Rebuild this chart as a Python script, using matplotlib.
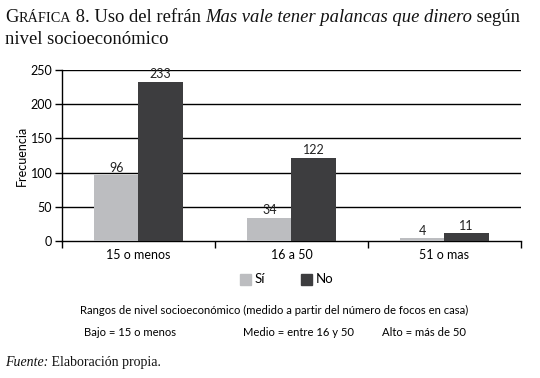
import numpy as np
import matplotlib
matplotlib.use('Agg')
import matplotlib.pyplot as plt

# data
categories = ['15 o menos', '16 a 50', '51 o mas']
si_values = [96, 34, 4]
no_values = [233, 122, 11]
series_names = ['Sí', 'No']
y_ticks = [0, 50, 100, 150, 200, 250]

SI_COLOR = '#bcbdc0'
NO_COLOR = '#3d3d3f'
SANS = 'Lato'
SERIF = 'Liberation Serif'

fig = plt.figure(figsize=(5.4, 3.78), dpi=100)
ax = fig.add_axes([0.1148, 0.3624, 0.85, 0.4524])

x = np.arange(len(categories))
w = 0.29
ax.bar(x - w / 2, si_values, w, color=SI_COLOR, zorder=3)
ax.bar(x + w / 2, no_values, w, color=NO_COLOR, zorder=3)

for xi, v in zip(x - w / 2, si_values):
    ax.text(xi, v + 2, str(v), ha='center', va='bottom', fontsize=9, family=SANS, color='#222222')
for xi, v in zip(x + w / 2, no_values):
    ax.text(xi, v + 2, str(v), ha='center', va='bottom', fontsize=9, family=SANS, color='#222222')

ax.set_xlim(-0.5, len(categories) - 0.5)
ax.set_ylim(0, 250)
ax.set_yticks(y_ticks)
ax.set_yticklabels([str(t) for t in y_ticks], family=SANS, fontsize=9)
for t in y_ticks[1:]:
    ax.axhline(t, color='black', lw=1, zorder=1)

# category boundaries as ticks, labels as minor ticks
ax.set_xticks(np.arange(-0.5, len(categories), 1.0))
ax.set_xticklabels([])
ax.set_xticks(x, minor=True)
ax.set_xticklabels(categories, minor=True, family=SANS, fontsize=9)
ax.tick_params(axis='x', which='minor', length=0, pad=6)
ax.tick_params(axis='x', which='major', length=5, width=1, direction='out')
ax.tick_params(axis='y', length=5, width=1, direction='out', pad=2)

for s in ['top', 'right']:
    ax.spines[s].set_visible(False)
ax.spines['left'].set_linewidth(1)
ax.spines['bottom'].set_linewidth(1)
ax.set_ylabel('Frecuencia', family=SANS, fontsize=9)
ax.yaxis.set_label_coords(-0.074, 0.5)

# legend
fig.patches.append(plt.Rectangle((240 / 540, 1 - 285 / 378), 11 / 540, 11 / 378,
                                 transform=fig.transFigure, color=SI_COLOR))
fig.text(255 / 540, 1 - 279 / 378, series_names[0], family=SANS, fontsize=9.5, va='center')
fig.patches.append(plt.Rectangle((301 / 540, 1 - 285 / 378), 11 / 540, 11 / 378,
                                 transform=fig.transFigure, color=NO_COLOR))
fig.text(316 / 540, 1 - 279 / 378, series_names[1], family=SANS, fontsize=9.5, va='center')

# notes
fig.text(274 / 540, 1 - 310 / 378,
         'Rangos de nivel socioeconómico (medido a partir del número de focos en casa)',
         family=SANS, fontsize=8.1, ha='center', va='center')
fig.text(84 / 540, 1 - 332 / 378, 'Bajo = 15 o menos', family=SANS, fontsize=8.1, va='center')
fig.text(243 / 540, 1 - 332 / 378, 'Medio = entre 16 y 50', family=SANS, fontsize=8.1, va='center')
fig.text(382 / 540, 1 - 332 / 378, 'Alto = más de 50', family=SANS, fontsize=8.1, va='center')

# title with small caps and italic piece
fig.canvas.draw()
renderer = fig.canvas.get_renderer()


def run_text(pieces, x0, y0):
    xcur = x0
    for txt, size, style in pieces:
        t = fig.text(xcur, y0, txt, family=SERIF, fontsize=size, style=style,
                     va='baseline', color='#111111')
        bb = t.get_window_extent(renderer=renderer)
        xcur = xcur + bb.width / fig.bbox.width


run_text([('G', 13.4, 'normal'), ('RÁFICA', 10.3, 'normal'),
          (' 8. Uso del refrán ', 13.4, 'normal'),
          ('Mas vale tener palancas que dinero', 13.4, 'italic'),
          (' según', 13.4, 'normal')], 5 / 540, 1 - 22 / 378)
run_text([('nivel socioeconómico', 13.4, 'normal')], 5 / 540, 1 - 44 / 378)
run_text([('Fuente:', 10, 'italic'), (' Elaboración propia.', 10, 'normal')], 5 / 540, 1 - 366 / 378)

fig.savefig('out.png', dpi=100)
